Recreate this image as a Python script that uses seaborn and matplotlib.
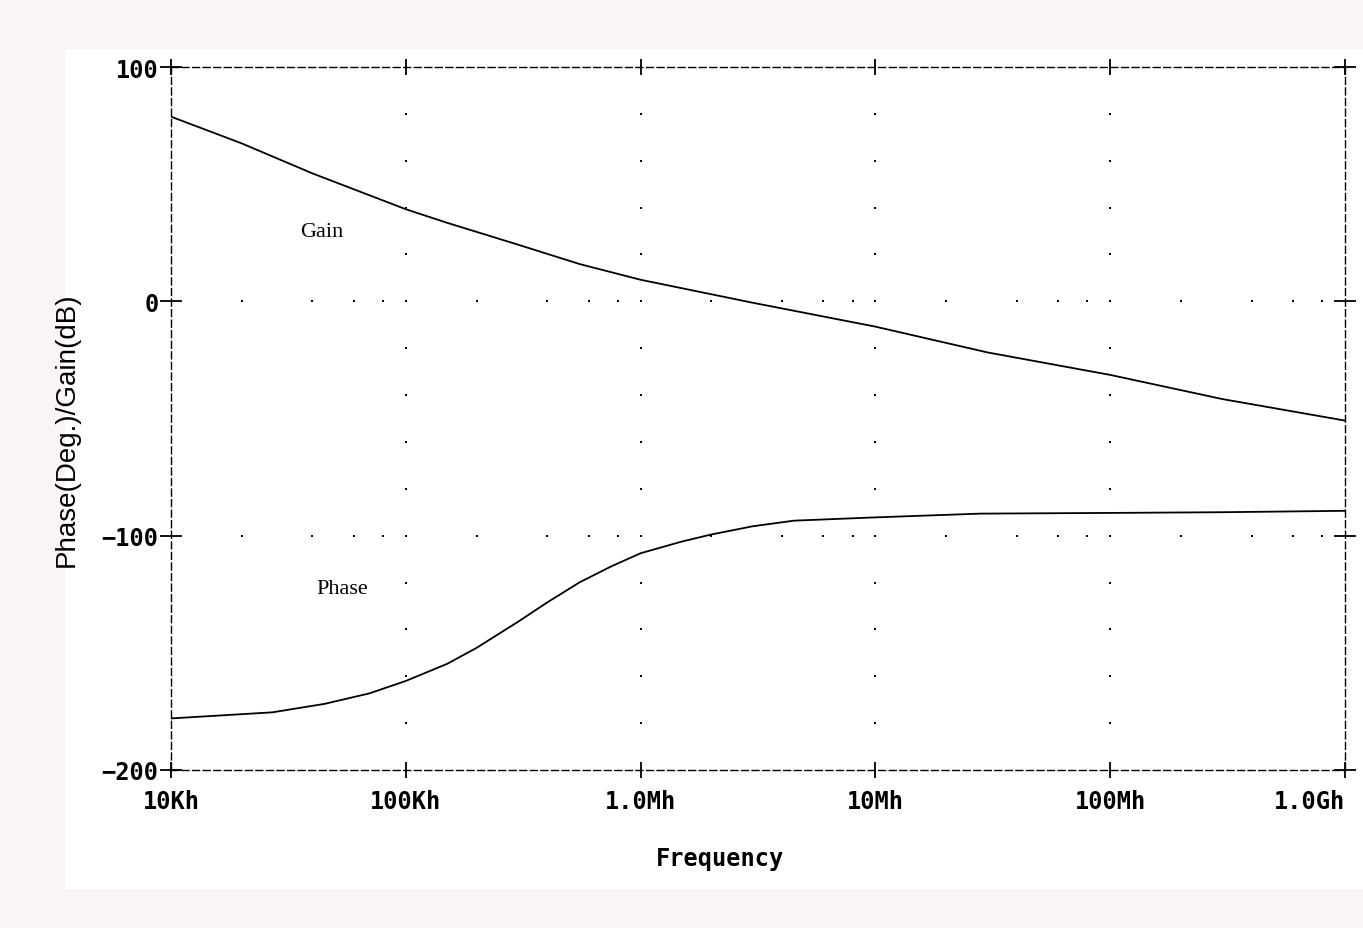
import numpy as np
import pandas as pd
import matplotlib.pyplot as plt
import seaborn as sns

# Bode plot values
gain_freq = [1e4, 2e4, 4e4, 1e5, 1.5e5, 3e5, 5.5e5, 1e6, 3e6, 1e7, 3e7, 1e8, 3e8, 1e9]
gain_db = [78.8, 67.4, 54.6, 39.3, 33.5, 24.2, 15.9, 9.2, -0.6, -10.8, -21.8, -31.4, -41.7, -50.9]

phase_freq = [1e4, 2.7e4, 4.5e4, 7e4, 1e5, 1.5e5, 2e5, 3e5, 4e5, 5.5e5, 7.5e5, 1e6,
              1.5e6, 2e6, 3e6, 4.5e6, 1e7, 2.8e7, 1e8, 3e8, 1e9]
phase_deg = [-178.0, -175.4, -171.8, -167.3, -162.0, -154.7, -147.9, -136.8, -128.5, -119.9, -113.1, -107.5,
             -102.5, -99.5, -96.0, -93.6, -92.2, -90.6, -90.3, -90.0, -89.4]

x_ticks = [1e4, 1e5, 1e6, 1e7, 1e8, 1e9]
x_tick_labels = ["10Kh", "100Kh", "1.0Mh", "10Mh", "100Mh", "1.0Gh"]
y_ticks = [-200, -100, 0, 100]
y_tick_labels = ["\u2212200", "\u2212100", "0", "100"]


def main():
    sns.set_style("white")
    plt.rcParams['font.family'] = ['DejaVu Sans']
    plt.rcParams['text.color'] = 'black'

    fig = plt.figure(figsize=(13.63, 9.29), dpi=100)
    fig.patch.set_facecolor('#f8f5f4')
    # white plotting sheet
    fig.add_artist(plt.Rectangle((0.0477, 0.042), 0.96, 0.904, transform=fig.transFigure,
                                 facecolor='white', edgecolor='none', zorder=0))
    ax = fig.add_axes([0.1255, 0.1701, 0.8613, 0.7567])
    ax.set_facecolor('none')

    gain = pd.DataFrame({'freq': gain_freq, 'value': gain_db})
    phase = pd.DataFrame({'freq': phase_freq, 'value': phase_deg})
    sns.lineplot(data=gain, x='freq', y='value', ax=ax, color='black', lw=1.3, zorder=5)
    sns.lineplot(data=phase, x='freq', y='value', ax=ax, color='black', lw=1.3, zorder=5)

    ax.set_xscale('log')
    ax.set_xlim(x_ticks[0], x_ticks[-1])
    ax.set_ylim(y_ticks[0], y_ticks[-1])

    # dotted grid: dots at 2,4,6,8 x decade on inner y-majors, every 20 units on inner decades
    inner_x = x_ticks[1:-1]
    inner_y = y_ticks[1:-1]
    row_x = [d * m for d in x_ticks[:-1] for m in (2, 4, 6, 8)] + list(inner_x)
    for yv in inner_y:
        ax.plot(row_x, [yv] * len(row_x), ls='none', marker='s', ms=1.5, mew=0, color='black', zorder=2)
    col_y = np.arange(y_ticks[0] + 20, y_ticks[-1], 20)
    for xv in inner_x:
        ax.plot([xv] * len(col_y), col_y, ls='none', marker='s', ms=1.5, mew=0, color='black', zorder=2)

    for sp in ax.spines.values():
        sp.set_visible(True)
        sp.set_linewidth(1.0)
        sp.set_color('black')
        sp.set_linestyle((0, (5, 2.6)))

    ax.set_xticks(x_ticks)
    ax.set_xticklabels(x_tick_labels)
    ax.set_yticks(y_ticks)
    ax.set_yticklabels(y_tick_labels)
    ax.minorticks_off()
    ax.tick_params(axis='x', which='major', direction='inout', length=12, width=1.3,
                   top=True, bottom=True, pad=8, colors='black')
    ax.tick_params(axis='y', which='major', direction='inout', length=16, width=1.3,
                   left=True, right=True, pad=1, colors='black')
    for lab in ax.get_xticklabels() + ax.get_yticklabels():
        lab.set_family('DejaVu Sans Mono')
        lab.set_fontweight('bold')
        lab.set_fontsize(17)
    ax.get_xticklabels()[-1].set_horizontalalignment('right')

    ax.set_xlabel('Frequency', family='DejaVu Sans Mono', fontweight='bold', fontsize=17, color='black')
    ax.xaxis.set_label_coords(0.4676, -0.108)
    ax.set_ylabel('Phase(Deg.)/Gain(dB)', family='Liberation Sans', fontsize=20, color='black')
    ax.yaxis.set_label_coords(-0.078, 0.485)

    ax.text(3.54e4, 30, 'Gain', family='Liberation Serif', fontsize=16, va='center', ha='left')
    ax.text(4.14e4, -122.4, 'Phase', family='Liberation Serif', fontsize=16, va='center', ha='left')

    plt.savefig('out.png', dpi=100, facecolor=fig.get_facecolor())


if __name__ == "__main__":
    main()
